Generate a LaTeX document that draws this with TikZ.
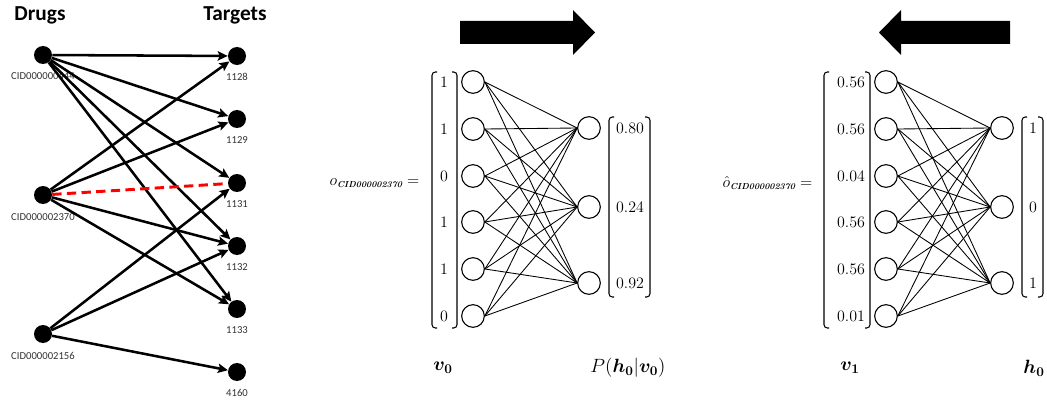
\documentclass[tikz,border=0pt]{standalone}
\usepackage{amsmath}
\usepackage{fontspec}
\newfontfamily\calibri{Carlito}
\usetikzlibrary{arrows.meta}
\newcommand{\cidsub}{\mbox{\fontsize{6.5}{7}\selectfont\bfseries\itshape CID000002370}}

\begin{document}
\begin{tikzpicture}[
      x=0.75pt, y=-0.75pt,
      dot/.style={circle, fill=black, inner sep=0pt, minimum size=13.5pt},
      lbl/.style={font=\calibri\fontsize{8}{9}\selectfont, text=black!80},
      head/.style={font=\calibri\bfseries\fontsize{16}{18}\selectfont},
      arr/.style={-{Stealth[length=7.5pt,width=7pt,inset=1.5pt]}, line width=1.9pt},
      unit/.style={circle, draw, line width=0.8pt, inner sep=0pt, minimum size=17pt},
      wire/.style={line width=0.65pt},
      val/.style={font=\fontsize{12.5}{14}\selectfont},
      vec/.style={line width=0.8pt, rounded corners=2.5pt},
      big/.style={font=\fontsize{14}{16}\selectfont},
      eq/.style={anchor=east, font=\fontsize{11.5}{13}\selectfont},
    ]
    \useasboundingbox (0,0) rectangle (1047,403);

    % drug -> target graph
    \node[head] (drugs) at (40,15) {Drugs};
    \node[head] (targets) at (235,15) {Targets};
    \node[dot] (d1) at (43,55) {};
    \node[dot] (d2) at (43,195) {};
    \node[dot] (d3) at (43,334) {};
    \node[lbl] (d1l) at (43,76) {CID000000444};
    \node[lbl] (d2l) at (43,217) {CID000002370};
    \node[lbl] (d3l) at (43,356) {CID000002156};
    \node[dot] (t1) at (237,56) {};
    \node[dot] (t2) at (237,119) {};
    \node[dot] (t3) at (237,183) {};
    \node[dot] (t4) at (237,246) {};
    \node[dot] (t5) at (237,309) {};
    \node[dot] (t6) at (237,372) {};
    \node[lbl] (t1l) at (237,77) {1128};
    \node[lbl] (t2l) at (237,140) {1129};
    \node[lbl] (t3l) at (237,204) {1131};
    \node[lbl] (t4l) at (237,267) {1132};
    \node[lbl] (t5l) at (237,330) {1133};
    \node[lbl] (t6l) at (237,393) {4160};
    \draw[arr] (d1) -- (t1);
    \draw[arr] (d1) -- (t2);
    \draw[arr] (d1) -- (t3);
    \draw[arr] (d1) -- (t4);
    \draw[arr] (d1) -- (t5);
    \draw[arr] (d2) -- (t1);
    \draw[arr] (d2) -- (t2);
    \draw[arr] (d2) -- (t4);
    \draw[arr] (d2) -- (t5);
    \draw[arr] (d3) -- (t3);
    \draw[arr] (d3) -- (t4);
    \draw[arr] (d3) -- (t6);
    \draw[red, line width=2.2pt, dash pattern=on 7pt off 4pt] (d2) -- (t3);

    % block arrows
    \fill (460,21) -- (573,21) -- (573,10) -- (595,32.5) -- (573,55) -- (573,44) -- (460,44) -- cycle;
    \fill (1010,21) -- (901,21) -- (901,10) -- (879,32.5) -- (901,55) -- (901,44) -- (1010,44) -- cycle;

    % left RBM
    \node[eq] (oeq) at (424,183) {$o_{\cidsub} =$};
    \foreach \i/\y/\v in {1/82/1, 2/129/1, 3/176/0, 4/222/1, 5/269/1, 6/316/0} {
      \node[unit] (lv\i) at (473,\y) {};
      \node[val] (lx\i) at (444,\y) {$\v$};
    }
    \foreach \j/\y/\p in {1/128/0.80, 2/207/0.24, 3/283/0.92} {
      \node[unit] (lh\j) at (589,\y) {};
      \node[val] (lp\j) at (630,\y) {$\p$};
    }
    \foreach \i in {1,...,6} \foreach \j in {1,2,3} \draw[wire] (lv\i.east) -- (lh\j.west);
    \draw[vec] (437,72) -- (432,72) -- (432,328) -- (437,328);
    \draw[vec] (452,72) -- (457,72) -- (457,328) -- (452,328);
    \draw[vec] (614,117) -- (609,117) -- (609,297) -- (614,297);
    \draw[vec] (645,117) -- (650,117) -- (650,297) -- (645,297);
    \node[big] (v0) at (443,368) {$\boldsymbol{v_0}$};
    \node[big] (ph) at (628,368) {$P(\boldsymbol{h_0}|\boldsymbol{v_0})$};

    % right RBM
    \node[eq] (oheq) at (817,183) {$\hat{o}_{\cidsub} =$};
    \foreach \i/\y/\v in {1/82/0.56, 2/129/0.56, 3/176/0.04, 4/222/0.56, 5/269/0.56, 6/316/0.01} {
      \node[unit] (rv\i) at (886,\y) {};
      \node[val] (rx\i) at (851,\y) {$\v$};
    }
    \foreach \j/\y/\h in {1/128/1, 2/207/0, 3/283/1} {
      \node[unit] (rh\j) at (1002,\y) {};
      \node[val] (ry\j) at (1033,\y) {$\h$};
    }
    \foreach \i in {1,...,6} \foreach \j in {1,2,3} \draw[wire] (rv\i.east) -- (rh\j.west);
    \draw[vec] (829,72) -- (824,72) -- (824,328) -- (829,328);
    \draw[vec] (865,72) -- (870,72) -- (870,328) -- (865,328);
    \draw[vec] (1027,117) -- (1022,117) -- (1022,297) -- (1027,297);
    \draw[vec] (1038,117) -- (1043,117) -- (1043,297) -- (1038,297);
    \node[big] (v1) at (850,368) {$\boldsymbol{v_1}$};
    \node[big] (h0) at (1034,368) {$\boldsymbol{h_0}$};
  \end{tikzpicture}
\end{document}
